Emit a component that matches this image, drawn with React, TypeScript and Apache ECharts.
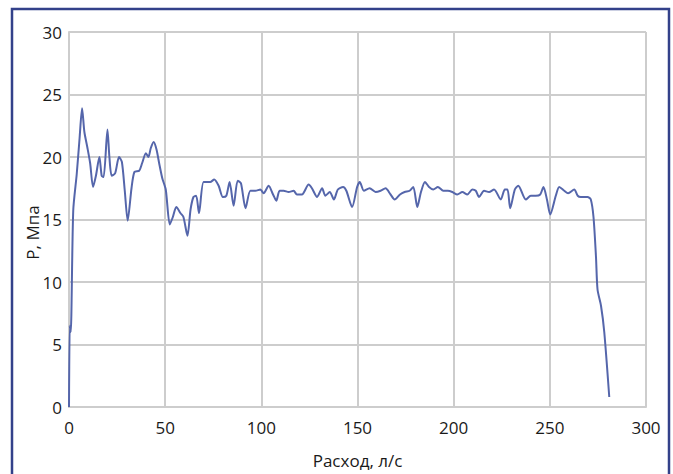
import React, { useEffect, useRef } from "react";
import * as echarts from "echarts";

const flow: number[] = [
  0, 0.4, 0.9, 2.2, 4.0, 5.5, 6.8, 8.0, 9.5, 11.0, 12.5, 14.0, 15.8, 17.0, 18.0, 20.0, 21.0, 22.2, 24.0, 26.0,
  27.5, 29.0, 30.5, 32.5, 34.0, 36.5, 38.0, 40.0, 41.3, 42.5, 44.0, 45.5, 47.0, 48.5, 50.3, 52.4, 54.0, 55.8,
  58.0, 59.5, 61.6, 63.2, 64.7, 66.1, 67.6, 70.0, 73.4, 75.5, 77.8, 80.0, 81.8, 83.5, 85.6, 87.7, 89.4, 91.8,
  94.3, 96.9, 99.5, 101.2, 103.8, 106.1, 107.8, 109.5, 111.6, 114.2, 116.8, 118.5, 121.1, 124.6, 126.3, 129.0,
  131.6, 133.3, 135.6, 137.7, 139.8, 142.5, 144.2, 147.2, 149.8, 151.2, 153.3, 156.3, 159.4, 162.0, 164.6,
  167.2, 169.3, 172.1, 174.5, 177.1, 179.0, 181.1, 183.0, 185.1, 187.2, 189.4, 191.8, 194.6, 197.0, 199.3,
  201.9, 204.5, 207.1, 209.7, 211.5, 213.2, 215.8, 218.4, 221.0, 224.5, 226.6, 228.0, 229.4, 231.8, 233.6,
  237.5, 240.1, 242.7, 245.0, 246.7, 248.5, 250.2, 253.1, 254.9, 257.5, 259.5, 262.7, 264.5, 266.1, 269.6,
  271.3, 272.7, 274.0, 274.8, 276.6, 278.3, 280.9,
];

const pressure: number[] = [
  0, 6.5, 6.0, 15.7, 18.6, 21.5, 23.9, 22.0, 20.8, 19.5, 17.6, 18.5, 20.0, 18.5, 18.4, 22.2, 20.0, 18.5, 18.7, 20.0,
  19.6, 17.3, 14.9, 17.5, 18.8, 18.9, 19.5, 20.3, 20.0, 20.7, 21.2, 20.6, 19.4, 18.3, 17.4, 14.6, 15.2, 16.0,
  15.5, 15.2, 13.7, 15.8, 16.8, 16.9, 15.5, 18.0, 18.0, 18.2, 17.7, 16.8, 16.9, 18.0, 16.1, 18.1, 17.9, 15.9,
  17.3, 17.3, 17.4, 17.1, 17.7, 17.0, 16.5, 17.3, 17.3, 17.2, 17.3, 17.0, 17.0, 17.8, 17.5, 16.8,
  17.5, 16.9, 17.2, 16.6, 17.4, 17.6, 17.3, 16.0, 17.6, 18.0, 17.3, 17.5, 17.2, 17.3, 17.5,
  17.0, 16.6, 17.0, 17.2, 17.3, 17.6, 16.0, 17.2, 18.0, 17.6, 17.4, 17.6, 17.3, 17.3, 17.2,
  17.0, 17.2, 17.0, 17.4, 17.3, 16.8, 17.3, 17.2, 17.4, 16.6, 17.4, 17.4, 15.9, 17.4, 17.7,
  16.6, 16.9, 16.9, 17.0, 17.6, 16.6, 15.4, 16.9, 17.6, 17.3, 17.1, 17.4, 16.9, 16.8, 16.8,
  16.6, 15.2, 12.0, 9.4, 8.1, 6.0, 0.8,
];

const xTicks = { min: 0, max: 300, interval: 50 };
const yTicks = { min: 0, max: 30, interval: 5 };
const xName = "Расход, л/с";
const yName = "P, Мпа";

export default function App() {
  const ref = useRef<HTMLDivElement>(null);

  useEffect(() => {
    document.body.style.margin = "0";
    if (!ref.current) return;
    const chart = echarts.init(ref.current, undefined, { renderer: "svg" });
    const font = "'Open Sans', 'Noto Sans', sans-serif";
    const gridColor = "#cdcdcd";
    chart.setOption({
      animation: false,
      backgroundColor: "#ffffff",
      graphic: [
        {
          type: "rect",
          shape: { x: 12, y: 9, width: 657, height: 480 },
          style: { fill: "none", stroke: "#33418a", lineWidth: 2.5 },
          silent: true,
          z: 100,
        },
      ],
      grid: { left: 69, right: 27, top: 32, bottom: 61, containLabel: false },
      xAxis: {
        type: "value",
        min: xTicks.min,
        max: xTicks.max,
        interval: xTicks.interval,
        name: xName,
        nameLocation: "middle",
        nameGap: 45,
        nameMoveOverlap: false,
        nameTextStyle: { fontFamily: font, fontSize: 17, color: "#1a1a1a" },
        axisLine: { show: true, lineStyle: { color: gridColor, width: 2 } },
        axisTick: { show: false },
        axisLabel: { fontFamily: font, fontSize: 17, color: "#1a1a1a", margin: 12 },
        splitLine: { show: true, lineStyle: { color: gridColor, width: 2 } },
      },
      yAxis: {
        type: "value",
        min: yTicks.min,
        max: yTicks.max,
        interval: yTicks.interval,
        name: yName,
        nameLocation: "middle",
        nameGap: 28,
        nameMoveOverlap: false,
        nameTextStyle: { fontFamily: font, fontSize: 17, color: "#1a1a1a", padding: [0, 26, 0, 0] },
        axisLine: { show: true, lineStyle: { color: gridColor, width: 2 } },
        axisTick: { show: false },
        axisLabel: { fontFamily: font, fontSize: 17, color: "#1a1a1a", margin: 7 },
        splitLine: { show: true, lineStyle: { color: gridColor, width: 2 } },
      },
      series: [
        {
          type: "line",
          data: flow.map((f, i) => [f, pressure[i]]),
          showSymbol: false,
          smooth: 0.25,
          lineStyle: { color: "#5566ab", width: 2 },
          z: 5,
        },
      ],
    });
    return () => chart.dispose();
  }, []);

  return <div ref={ref} style={{ width: 673, height: 474 }} />;
}
